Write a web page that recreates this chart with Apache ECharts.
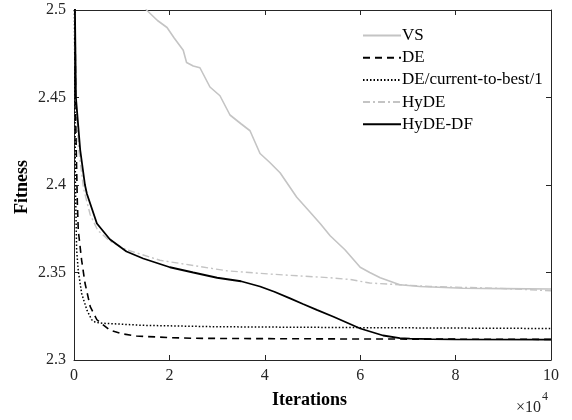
<!DOCTYPE html>
<html><head><meta charset="utf-8">
<script src="https://cdn.jsdelivr.net/npm/echarts@6/dist/echarts.min.js"></script>
<style>html,body{margin:0;padding:0;background:#fff}#c{width:572px;height:420px}</style>
</head><body><div id="c"></div>
<script>
// x in units of 1e4 iterations
const seriesNames = ['VS', 'DE', 'DE/current-to-best/1', 'HyDE', 'HyDE-DF'];
const xTicks = [0, 2, 4, 6, 8, 10];
const yTicks = [2.3, 2.35, 2.4, 2.45, 2.5];

const vsData = [[1.45,2.505],[1.52,2.5],[1.75,2.494],[1.95,2.49],[2.1,2.484],[2.29,2.477],[2.36,2.47],[2.5,2.468],[2.64,2.467],[2.85,2.456],[3.06,2.451],[3.27,2.44],[3.5,2.435],[3.69,2.431],[3.9,2.418],[4.1,2.413],[4.32,2.407],[4.67,2.393],[4.9,2.386],[5.16,2.378],[5.37,2.371],[5.68,2.363],[6.0,2.353],[6.2,2.35],[6.42,2.347],[6.83,2.343],[7.25,2.342],[8.16,2.341],[9.0,2.3408],[10,2.3406]];
const deData = [[0,2.9],[0.02,2.5],[0.04,2.43],[0.07,2.39],[0.09,2.374],[0.16,2.357],[0.23,2.344],[0.34,2.3305],[0.48,2.323],[0.75,2.3171],[1.0,2.315],[1.31,2.3137],[2.0,2.3128],[2.5,2.3124],[4,2.3122],[6,2.312],[8,2.3119],[10,2.3118]];
const ctbData = [[0,2.9],[0.01,2.5],[0.03,2.4],[0.055,2.363],[0.09,2.351],[0.16,2.338],[0.27,2.3286],[0.37,2.323],[0.45,2.3215],[0.61,2.321],[1.45,2.3198],[3,2.319],[6,2.3185],[10,2.318]];
const hydeData = [[0,2.9],[0.02,2.5],[0.04,2.45],[0.1,2.42],[0.2,2.398],[0.34,2.383],[0.5,2.374],[0.75,2.368],[1.1,2.363],[1.8,2.357],[2.5,2.354],[3.2,2.351],[3.9,2.3495],[4.4,2.3486],[5.37,2.347],[5.79,2.346],[6.2,2.344],[6.83,2.343],[7.46,2.342],[8.86,2.341],[10,2.3396]];
const hydeDfData = [[0,2.9],[0.02,2.5],[0.04,2.45],[0.13,2.42],[0.23,2.4],[0.27,2.395],[0.48,2.378],[0.75,2.369],[1.1,2.362],[1.45,2.358],[2.01,2.353],[2.5,2.35],[3.0,2.347],[3.5,2.345],[3.9,2.342],[4.2,2.339],[4.53,2.3352],[4.8,2.332],[5.09,2.3286],[5.44,2.3247],[5.75,2.321],[6.0,2.318],[6.48,2.314],[6.83,2.3125],[7.04,2.3122],[7.5,2.3119],[8,2.3118],[10,2.3117]];

const FONT = 'Liberation Serif';
const AX = '#262626';
const chart = echarts.init(document.getElementById('c'), null, {renderer: 'canvas'});

function mkX(pos, show) {
  return {
    type: 'value', position: pos, min: xTicks[0], max: xTicks[xTicks.length-1], interval: xTicks[1]-xTicks[0],
    axisLine: {show: true, onZero: false, lineStyle: {color: AX, width: 1}},
    axisTick: {show: true, inside: true, length: 5, lineStyle: {color: AX}},
    axisLabel: {show: show, margin: 8, color: AX, fontFamily: FONT, fontSize: 16},
    splitLine: {show: false}
  };
}
function mkY(pos, show) {
  return {
    type: 'value', position: pos, min: yTicks[0], max: yTicks[yTicks.length-1], interval: 0.05,
    axisLine: {show: true, onZero: false, lineStyle: {color: AX, width: 1}},
    axisTick: {show: true, inside: true, length: 5, lineStyle: {color: AX}},
    axisLabel: {show: show, margin: 8, color: AX, fontFamily: FONT, fontSize: 16,
      formatter: v => String(+(+v).toFixed(2))},
    splitLine: {show: false}
  };
}

const styles = [
  {color: '#c4c4c4', width: 1.6, type: 'solid'},
  {color: '#000000', width: 1.6, type: [7, 5]},
  {color: '#000000', width: 1.5, type: [1.5, 2]},
  {color: '#c4c4c4', width: 1.4, type: [7, 3, 2, 3]},
  {color: '#000000', width: 1.8, type: 'solid'}
];
const datas = [vsData, deData, ctbData, hydeData, hydeDfData];

chart.setOption({
  animation: false,
  backgroundColor: '#fff',
  grid: {left: 74, right: 21, top: 10, bottom: 60, containLabel: false},
  xAxis: [mkX('bottom', true), mkX('top', false)],
  yAxis: [mkY('left', true), mkY('right', false)],
  legend: {
    orient: 'vertical', left: 357, top: 22,
    itemWidth: 38, itemHeight: 16, itemGap: 5.2,
    itemStyle: {opacity: 0},
    textStyle: {color: '#000', fontFamily: FONT, fontSize: 17, lineHeight: 16, padding: [0, 0, 0, -4]},
    data: seriesNames
  },
  series: seriesNames.map((n, i) => ({
    name: n, type: 'line', xAxisIndex: 0, yAxisIndex: 0,
    data: datas[i], symbol: 'none', showSymbol: false, clip: true,
    color: styles[i].color,
    lineStyle: styles[i], z: i === 4 ? 5 : 3
  })),
  graphic: [
    {type: 'text', left: 272, top: 391, style: {text: 'Iterations', fill: '#000', font: 'bold 18px "Liberation Serif"'}},
    {type: 'text', x: 22, y: 187, rotation: Math.PI/2, style: {text: 'Fitness', fill: '#000', font: 'bold 18px "Liberation Serif"', textAlign: 'center', textVerticalAlign: 'middle'}},
    {type: 'text', x: 541, y: 408, style: {text: '\u00d710', fill: AX, font: '16px "Liberation Serif"', textAlign: 'right', textVerticalAlign: 'middle'}},
    {type: 'text', x: 542, y: 397, style: {text: '4', fill: AX, font: '12px "Liberation Serif"', textAlign: 'left', textVerticalAlign: 'middle'}}
  ]
});
</script></body></html>
